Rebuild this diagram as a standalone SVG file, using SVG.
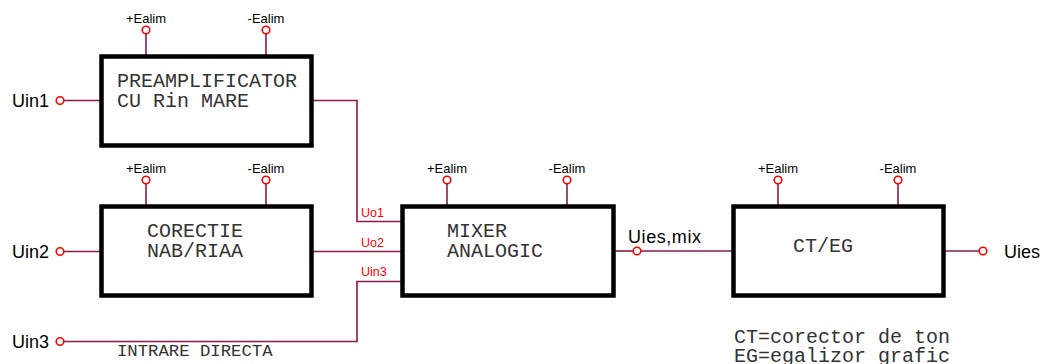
<svg xmlns="http://www.w3.org/2000/svg" width="1044" height="364" viewBox="0 0 1044 364">
<style>
.box{fill:#fff;stroke:#000;stroke-width:4.5}
.w{fill:none;stroke:#8b1a4f;stroke-width:1.6}
.pin{fill:#fff;stroke:#f00;stroke-width:1.6}
.sup{font-family:"Liberation Sans",Arial,sans-serif;font-size:13px;fill:#000;text-anchor:middle}
.lbl{font-family:"Liberation Sans",Arial,sans-serif;font-size:18px;fill:#000}
.red{font-family:"Liberation Sans",Arial,sans-serif;font-size:12.5px;fill:#f00}
.mono{font-family:"Liberation Mono","Courier New",monospace;font-size:20px;fill:#333}
.mono2{font-family:"Liberation Mono","Courier New",monospace;font-size:17.3px;fill:#333}
</style>
<defs>
<g id="supply">
<line class="w" x1="0" y1="3.5" x2="0" y2="26"/>
<circle class="pin" cx="0" cy="0" r="3.8"/>
</g>
</defs>
<g id="connectors">
<line class="w" x1="64" y1="100.5" x2="101" y2="100.5"/>
<line class="w" x1="64" y1="251.5" x2="101" y2="251.5"/>
<polyline class="w" points="312,100.5 357,100.5 357,221.5 402,221.5"/>
<line class="w" x1="312" y1="251.5" x2="402" y2="251.5"/>
<polyline class="w" points="64,341.5 357,341.5 357,281.5 402,281.5"/>
<line class="w" x1="614" y1="251" x2="633" y2="251"/>
<line class="w" x1="641" y1="251" x2="734" y2="251"/>
<line class="w" x1="944" y1="251" x2="979" y2="251"/>
</g>
<g id="preamp">
<use href="#supply" x="146" y="30"/>
<use href="#supply" x="266" y="30"/>
<text class="sup" x="146" y="23">+Ealim</text>
<text class="sup" x="266" y="23">-Ealim</text>
<rect class="box" x="101.5" y="56.5" width="210" height="89"/>
<text class="mono" x="117" y="87">PREAMPLIFICATOR</text>
<text class="mono" x="117" y="107">CU Rin MARE</text>
</g>
<g id="corectie">
<use href="#supply" x="146" y="180"/>
<use href="#supply" x="266" y="180"/>
<text class="sup" x="146" y="173">+Ealim</text>
<text class="sup" x="266" y="173">-Ealim</text>
<rect class="box" x="101.5" y="206.5" width="210" height="89"/>
<text class="mono" x="147" y="237">CORECTIE</text>
<text class="mono" x="147" y="257">NAB/RIAA</text>
</g>
<g id="mixer">
<use href="#supply" x="447" y="180"/>
<use href="#supply" x="567" y="180"/>
<text class="sup" x="447" y="173">+Ealim</text>
<text class="sup" x="567" y="173">-Ealim</text>
<rect class="box" x="402.5" y="206.5" width="211" height="89"/>
<text class="mono" x="447" y="237">MIXER</text>
<text class="mono" x="447" y="257">ANALOGIC</text>
</g>
<g id="cteg">
<use href="#supply" x="778" y="180"/>
<use href="#supply" x="898" y="180"/>
<text class="sup" x="778" y="173">+Ealim</text>
<text class="sup" x="898" y="173">-Ealim</text>
<rect class="box" x="733.5" y="206.5" width="210" height="89"/>
<text class="mono" x="793" y="252">CT/EG</text>
</g>
<g id="uin1">
<circle class="pin" cx="60" cy="100.5" r="3.8"/>
<text class="lbl" x="12" y="107">Uin1</text>
</g>
<g id="uin2">
<circle class="pin" cx="60" cy="251.5" r="3.8"/>
<text class="lbl" x="12" y="258">Uin2</text>
</g>
<g id="uin3">
<circle class="pin" cx="60" cy="341.5" r="3.8"/>
<text class="lbl" x="12" y="348">Uin3</text>
</g>
<g id="uiesmix">
<circle class="pin" cx="637" cy="251" r="3.8"/>
<text class="lbl" x="628" y="243" textLength="73">Uies,mix</text>
</g>
<g id="uies">
<circle class="pin" cx="983" cy="251" r="3.8"/>
<text class="lbl" x="1004" y="258">Uies</text>
</g>
<g id="labels">
<text class="red" x="361" y="217">Uo1</text>
<text class="red" x="361" y="247">Uo2</text>
<text class="red" x="361" y="276">Uin3</text>
<text class="mono2" x="117" y="356">INTRARE DIRECTA</text>
<text class="mono" x="734" y="343">CT=corector de ton</text>
<text class="mono" x="734" y="362">EG=egalizor grafic</text>
</g>
</svg>
